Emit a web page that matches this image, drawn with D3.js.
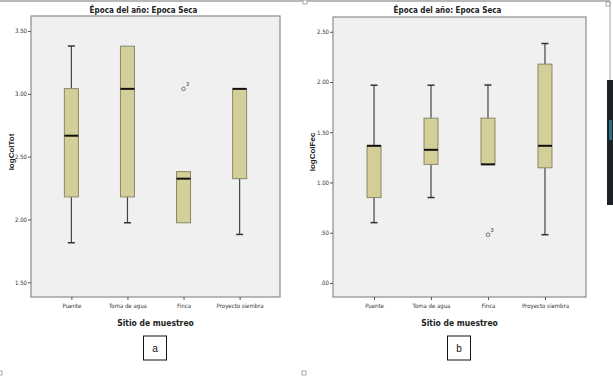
<!DOCTYPE html>
<html>
<head>
<meta charset="utf-8">
<script src="https://cdn.jsdelivr.net/npm/d3@7"></script>
<style>
  body { margin: 0; background: #fff; }
  svg { display: block; }
  .tick text { font-family: "Liberation Sans Narrow", "DejaVu Sans Condensed", sans-serif; font-size: 6px; fill: #333; }
</style>
</head>
<body>
<script>
// categories
var sites = ["Puente", "Toma de agua", "Finca", "Proyecto siembra"];

// panel a: logColTot
var totMin = [1.815, 1.974, 1.974, 1.881];
var totQ1  = [2.18, 2.18, 1.974, 2.325];
var totMed = [2.667, 3.04, 2.325, 3.04];
var totQ3  = [3.042, 3.38, 2.381, 3.04];
var totMax = [3.381, 3.38, 2.381, 3.04];
var totOut = [{site: "Finca", value: 3.04, label: "3"}];
var totTicks = [1.5, 2.0, 2.5, 3.0, 3.5];

// panel b: logColFec
var fecMin = [0.60, 0.85, 1.18, 0.48];
var fecQ1  = [0.85, 1.18, 1.18, 1.146];
var fecMed = [1.365, 1.325, 1.18, 1.365];
var fecQ3  = [1.365, 1.64, 1.64, 2.178];
var fecMax = [1.968, 1.968, 1.97, 2.383];
var fecOut = [{site: "Finca", value: 0.48, label: "3"}];
var fecTicks = [0, 0.5, 1.0, 1.5, 2.0, 2.5];

var W = 613, H = 376;
var svg = d3.select("body").append("svg")
  .attr("width", W)
  .attr("height", H);

// page decorations (borders of the pasted pictures)
svg.append("line").attr("x1", 0).attr("x2", 610).attr("y1", 1).attr("y2", 1)
  .attr("stroke", "#a0a0a0").attr("stroke-width", 1.5);
svg.append("line").attr("x1", 610).attr("x2", 610).attr("y1", 1).attr("y2", 80)
  .attr("stroke", "#a0a0a0").attr("stroke-width", 1);
svg.append("rect").attr("x", 607).attr("y", 80).attr("width", 6).attr("height", 125)
  .attr("fill", "#1e2226");
svg.append("rect").attr("x", 609).attr("y", 120).attr("width", 3).attr("height", 20)
  .attr("fill", "#2a6f8a");
[[303, 0], [606, 2], [302, 371], [-2, 371]].forEach(function(p) {
  svg.append("rect").attr("x", p[0]).attr("y", p[1]).attr("width", 4).attr("height", 4)
    .attr("fill", "#fff").attr("stroke", "#888").attr("stroke-width", 0.7);
});

function fmt(d) {
  return d3.format(".2f")(d).replace(/^0/, "");
}

function drawPanel(cfg) {
  var x = d3.scalePoint()
    .domain(sites)
    .range([cfg.left, cfg.right])
    .padding(0.72);
  var y = d3.scaleLinear()
    .domain(cfg.domain)
    .range([cfg.bottom, cfg.top]);

  var g = svg.append("g");

  g.append("rect")
    .attr("x", cfg.left).attr("y", cfg.top)
    .attr("width", cfg.right - cfg.left)
    .attr("height", cfg.bottom - cfg.top)
    .attr("fill", "#f0f0f0")
    .attr("stroke", "#8c8c8c")
    .attr("stroke-width", 1.2);

  var yAxis = d3.axisLeft(y).tickValues(cfg.ticks).tickFormat(fmt).tickSize(3).tickPadding(1);
  var ya = g.append("g")
    .attr("transform", "translate(" + cfg.left + ",0)")
    .call(yAxis);
  ya.select(".domain").remove();
  ya.selectAll(".tick line").attr("stroke", "#555");

  var xAxis = d3.axisBottom(x).tickSize(3).tickPadding(4);
  var xa = g.append("g")
    .attr("transform", "translate(0," + cfg.bottom + ")")
    .call(xAxis);
  xa.select(".domain").remove();
  xa.selectAll(".tick line").attr("stroke", "#555");

  var bw = 14, cw = 7;
  var rows = sites.map(function(s, i) {
    return {site: s, min: cfg.min[i], q1: cfg.q1[i], med: cfg.med[i], q3: cfg.q3[i], max: cfg.max[i]};
  });

  var b = g.selectAll(".box").data(rows).enter().append("g").attr("class", "box");

  // whiskers
  b.append("line")
    .attr("x1", function(d) { return x(d.site); })
    .attr("x2", function(d) { return x(d.site); })
    .attr("y1", function(d) { return y(d.max); })
    .attr("y2", function(d) { return y(d.q3); })
    .attr("stroke", "#444").attr("stroke-width", 1.2);
  b.append("line")
    .attr("x1", function(d) { return x(d.site); })
    .attr("x2", function(d) { return x(d.site); })
    .attr("y1", function(d) { return y(d.q1); })
    .attr("y2", function(d) { return y(d.min); })
    .attr("stroke", "#444").attr("stroke-width", 1.2);
  // caps
  b.filter(function(d) { return d.max > d.q3; }).append("line")
    .attr("x1", function(d) { return x(d.site) - cw / 2; })
    .attr("x2", function(d) { return x(d.site) + cw / 2; })
    .attr("y1", function(d) { return y(d.max); })
    .attr("y2", function(d) { return y(d.max); })
    .attr("stroke", "#333").attr("stroke-width", 1.5);
  b.filter(function(d) { return d.min < d.q1; }).append("line")
    .attr("x1", function(d) { return x(d.site) - cw / 2; })
    .attr("x2", function(d) { return x(d.site) + cw / 2; })
    .attr("y1", function(d) { return y(d.min); })
    .attr("y2", function(d) { return y(d.min); })
    .attr("stroke", "#333").attr("stroke-width", 1.5);

  b.append("rect")
    .attr("x", function(d) { return x(d.site) - bw / 2; })
    .attr("y", function(d) { return y(d.q3); })
    .attr("width", bw)
    .attr("height", function(d) { return y(d.q1) - y(d.q3); })
    .attr("fill", "#d4cf98")
    .attr("stroke", "#8a876a")
    .attr("stroke-width", 1);

  b.append("line")
    .attr("x1", function(d) { return x(d.site) - bw / 2; })
    .attr("x2", function(d) { return x(d.site) + bw / 2; })
    .attr("y1", function(d) { return y(d.med); })
    .attr("y2", function(d) { return y(d.med); })
    .attr("stroke", "#111").attr("stroke-width", 2);

  // outliers
  var o = g.selectAll(".out").data(cfg.out).enter().append("g");
  o.append("circle")
    .attr("cx", function(d) { return x(d.site); })
    .attr("cy", function(d) { return y(d.value); })
    .attr("r", 1.8)
    .attr("fill", "none").attr("stroke", "#555").attr("stroke-width", 0.8);
  o.append("text")
    .attr("x", function(d) { return x(d.site) + 2.5; })
    .attr("y", function(d) { return y(d.value) - 2.5; })
    .attr("font-family", "Liberation Sans Narrow, sans-serif")
    .attr("font-size", 5.5).attr("fill", "#333")
    .text(function(d) { return d.label; });

  var cx = (cfg.left + cfg.right) / 2;
  g.append("text")
    .attr("x", cx - 12).attr("y", 13)
    .attr("text-anchor", "middle")
    .attr("font-family", "Liberation Sans Narrow, DejaVu Sans Condensed, sans-serif")
    .attr("font-weight", "bold").attr("font-size", 8).attr("fill", "#222")
    .text("Época del año: Epoca Seca");

  g.append("text")
    .attr("x", cx).attr("y", 326)
    .attr("text-anchor", "middle")
    .attr("font-family", "Liberation Sans Narrow, DejaVu Sans Condensed, sans-serif")
    .attr("font-weight", "bold").attr("font-size", 8.5).attr("fill", "#222")
    .text("Sitio de muestreo");

  g.append("text")
    .attr("transform", "translate(" + cfg.ylabX + ",152) rotate(-90)")
    .attr("text-anchor", "middle")
    .attr("font-family", "Liberation Sans, Arial, sans-serif")
    .attr("font-weight", "bold").attr("font-size", 8).attr("fill", "#222")
    .text(cfg.ylab);

  // panel letter box
  g.append("rect")
    .attr("x", cx - 12).attr("y", 336).attr("width", 23).attr("height", 24)
    .attr("fill", "#fff").attr("stroke", "#111").attr("stroke-width", 1);
  g.append("text")
    .attr("x", cx - 0.5).attr("y", 352)
    .attr("text-anchor", "middle")
    .attr("font-family", "Liberation Sans, Arial, sans-serif")
    .attr("font-size", 10).attr("fill", "#111")
    .text(cfg.letter);
}

drawPanel({
  left: 31, right: 280, top: 16, bottom: 297,
  domain: [1.383, 3.62], ticks: totTicks,
  min: totMin, q1: totQ1, med: totMed, q3: totQ3, max: totMax, out: totOut,
  ylab: "logColTot", ylabX: 14, letter: "a"
});

drawPanel({
  left: 333, right: 586, top: 17, bottom: 297,
  domain: [-0.14, 2.647], ticks: fecTicks,
  min: fecMin, q1: fecQ1, med: fecMed, q3: fecQ3, max: fecMax, out: fecOut,
  ylab: "logColFec", ylabX: 315, letter: "b"
});
</script>
</body>
</html>
